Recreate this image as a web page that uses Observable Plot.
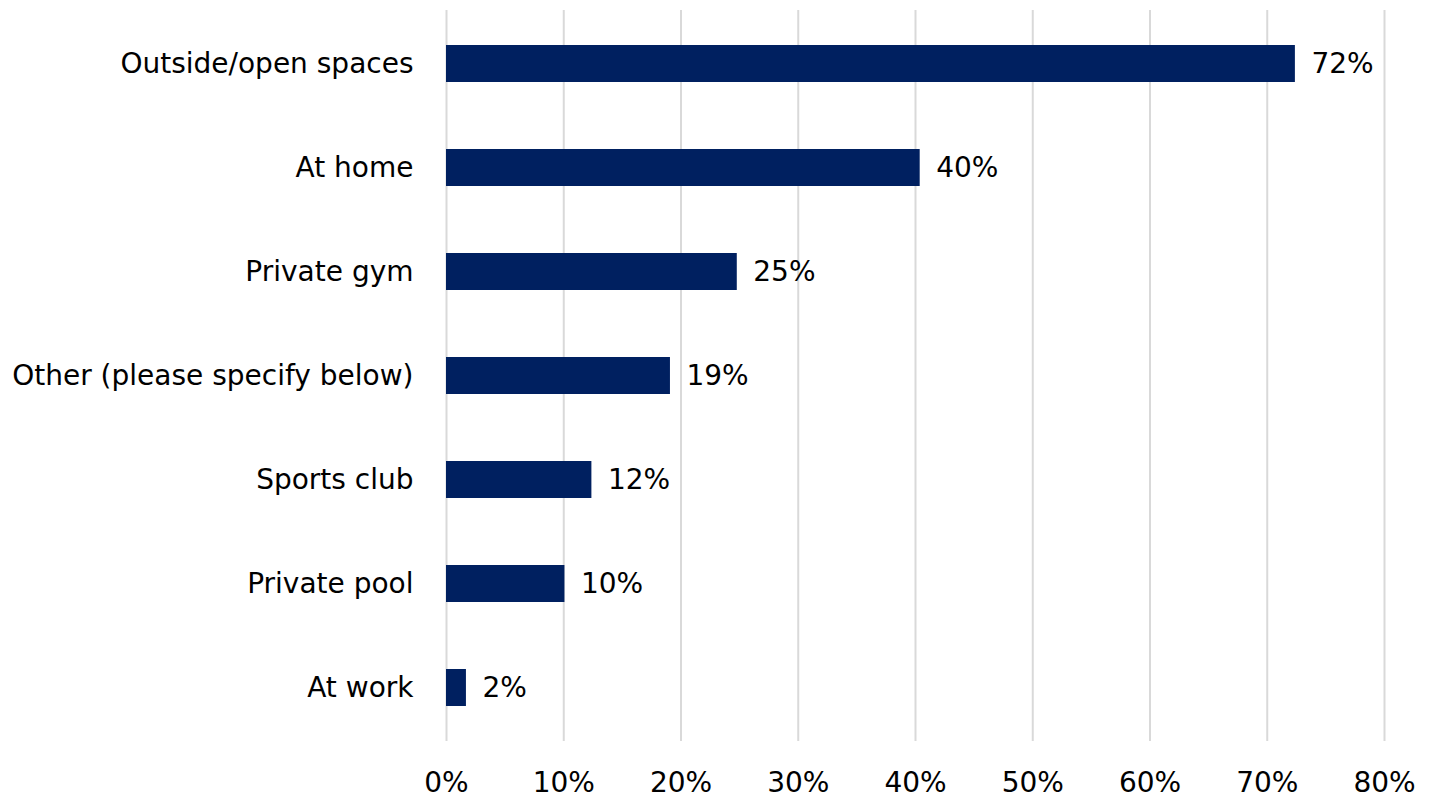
<!DOCTYPE html>
<html>
<head>
<meta charset="utf-8">
<script src="https://cdn.jsdelivr.net/npm/d3@7"></script>
<script src="https://cdn.jsdelivr.net/npm/@observablehq/plot@0.6"></script>
<style>
  html, body { margin: 0; padding: 0; background: #fff; }
  #chart svg { display: block; }
</style>
</head>
<body>
<div id="chart"></div>
<script>
const categories = ["Outside/open spaces", "At home", "Private gym", "Other (please specify below)", "Sports club", "Private pool", "At work"];
const values = [0.724, 0.404, 0.248, 0.191, 0.124, 0.101, 0.017];
const xTicks = [0, 0.1, 0.2, 0.3, 0.4, 0.5, 0.6, 0.7, 0.8];

const data = categories.map((c, i) => ({category: c, value: values[i]}));
const font = "'DejaVu Sans', sans-serif";

const chart = Plot.plot({
  width: 1430,
  height: 799,
  marginLeft: 446,
  marginRight: 46,
  marginTop: 10,
  marginBottom: 58,
  style: {fontFamily: font, fontSize: "28px", color: "#000", background: "#fff"},
  x: {domain: [0, 0.8], ticks: xTicks, tickFormat: d3.format(".0%"), label: null},
  y: {domain: categories, paddingInner: 0.64, paddingOuter: 0.32, label: null},
  marks: [
    Plot.gridX(xTicks, {stroke: "#d9d9d9", strokeOpacity: 1, strokeWidth: 2}),
    Plot.barX(data, {x: "value", y: "category", fill: "#002060"}),
    Plot.text(data, {x: "value", y: "category", text: d => d3.format(".0%")(d.value), textAnchor: "start", dx: 16, fontSize: 28, fill: "#000"}),
    Plot.axisX({ticks: xTicks, tickFormat: d3.format(".0%"), tickSize: 0, tickPadding: 31, fontSize: 28, label: null}),
    Plot.axisY({tickSize: 0, tickPadding: 33, fontSize: 28, label: null})
  ]
});
document.getElementById("chart").appendChild(chart);
</script>
</body>
</html>
